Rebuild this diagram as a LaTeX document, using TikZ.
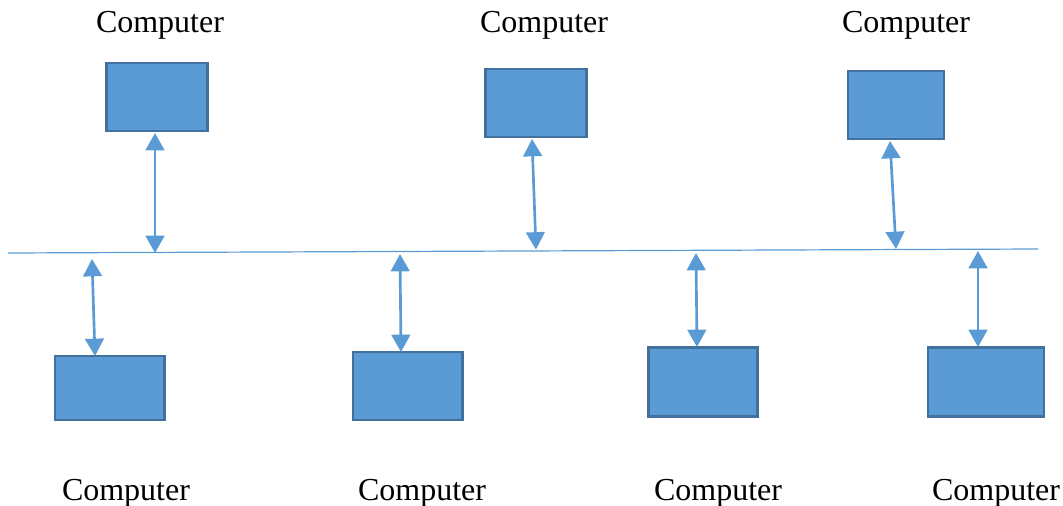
\documentclass[tikz,border=0pt]{standalone}
\usepackage{fontspec}
\setmainfont{Liberation Serif}
\usetikzlibrary{arrows.meta}
\definecolor{boxfill}{HTML}{5B9BD5}
\definecolor{boxline}{HTML}{41719C}

\begin{document}
\begin{tikzpicture}[x=0.75pt, y=-0.75pt,
    pc/.style={draw=boxline, fill=boxfill, line width=2pt, inner sep=0pt,
               minimum width=76pt, minimum height=51pt},
    lbl/.style={font=\fontsize{24}{28}\selectfont, inner sep=0pt},
    link/.style={draw=boxfill, line width=2pt,
                 {Triangle[width=14pt,length=13pt]}-{Triangle[width=14pt,length=13pt]}}]
         \useasboundingbox (0,0) rectangle (1063,506);
         % bus
         \coordinate (BL) at (8,253);
         \coordinate (BR) at (1038,249);
         \draw [boxfill, line width=0.9pt] (BL) -- (BR);
         % computers above the bus
         \node [pc] (T1) at (157,97) {};
         \node [pc] (T2) at (536,103) {};
         \node [pc, minimum width=72pt] (T3) at (896,105) {};
         \node [lbl] (LT1) at (160,25) {Computer};
         \node [lbl] (LT2) at (544,25) {Computer};
         \node [lbl] (LT3) at (906,25) {Computer};
         % computers below the bus
         \node [pc, minimum width=82pt, minimum height=48pt] (B1) at (109.5,388) {};
         \node [pc, minimum width=82pt, minimum height=51pt] (B2) at (407.5,386) {};
         \node [pc, minimum width=82pt, minimum height=52pt] (B3) at (703,382) {};
         \node [pc, minimum width=87pt, minimum height=52pt] (B4) at (986,382) {};
         \node [lbl] (LB1) at (126,493) {Computer};
         \node [lbl] (LB2) at (422,493) {Computer};
         \node [lbl] (LB3) at (718,493) {Computer};
         \node [lbl] (LB4) at (996,493) {Computer};
         % taps on the bus
         \coordinate (A1) at (155,253);
         \coordinate (A2) at (536,249.5);
         \coordinate (A3) at (896,249);
         \coordinate (C1) at (92,259);
         \coordinate (C2) at (400,254);
         \coordinate (C3) at (696,253);
         \coordinate (C4) at (978,251);
         \draw [link] (155,133) -- (A1);
         \draw [link] (532,139) -- (A2);
         \draw [link] (890,141) -- (A3);
         \draw [link] (C1) -- (95,356);
         \draw [link] (C2) -- (401,352);
         \draw [link] (C3) -- (697,347);
         \draw [link] (C4) -- (978,347);
\end{tikzpicture}
\end{document}
